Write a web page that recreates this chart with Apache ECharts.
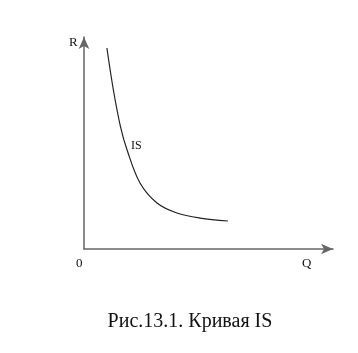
<!DOCTYPE html>
<html>
<head>
<meta charset="utf-8">
<script src="https://cdn.jsdelivr.net/npm/echarts@6/dist/echarts.min.js"></script>
<style>
  html, body { margin: 0; padding: 0; background: #fff; }
  #chart { width: 358px; height: 353px; }
</style>
</head>
<body>
<div id="chart"></div>
<script>
// кривая IS: Q (x) и R (y) в условных единицах 0..100
const qValues = [9.2, 11.8, 14.6, 17.3, 22.5, 29.3, 37.3, 46.6, 57.8]
const rValues = [94.8, 75.0, 58.0, 46.7, 31.1, 21.7, 17.0, 14.6, 13.2]
const curveName = 'IS'
const caption = 'Рис.13.1. Кривая IS'

const serif = '"Liberation Serif", "DejaVu Serif", serif'

const chart = echarts.init(document.getElementById('chart'))

const axisLine = {
  show: true,
  symbol: ['none', 'arrow'],
  symbolSize: [8, 12],
  symbolOffset: [0, 0],
  lineStyle: { color: '#666', width: 1.5 }
}

const option = {
  animation: false,
  title: {
    text: caption,
    left: 185,
    top: 307,
    textAlign: 'center',
    textStyle: { fontFamily: serif, fontSize: 20, fontWeight: 'normal', color: '#111' }
  },
  grid: { left: 84, right: 25, top: 37, bottom: 104 },
  xAxis: {
    type: 'value',
    min: 0,
    max: 100,
    axisLine: axisLine,
    axisTick: { show: false },
    axisLabel: { show: false },
    splitLine: { show: false }
  },
  yAxis: {
    type: 'value',
    min: 0,
    max: 100,
    axisLine: axisLine,
    axisTick: { show: false },
    axisLabel: { show: false },
    splitLine: { show: false }
  },
  graphic: [
    { type: 'text', left: 69, top: 36, style: { text: 'R', font: '13px ' + serif, fill: '#111' } },
    { type: 'text', left: 76, top: 257, style: { text: '0', font: '13px ' + serif, fill: '#111' } },
    { type: 'text', left: 302, top: 257, style: { text: 'Q', font: '13px ' + serif, fill: '#111' } },
    { type: 'text', left: 131, top: 140, style: { text: curveName, font: '12px ' + serif, fill: '#111' } }
  ],
  series: [
    {
      name: curveName,
      type: 'line',
      data: qValues.map((q, i) => [q, rValues[i]]),
      smooth: 0.35,
      showSymbol: false,
      lineStyle: { color: '#222', width: 1.2 }
    }
  ]
}

chart.setOption(option)
</script>
</body>
</html>
